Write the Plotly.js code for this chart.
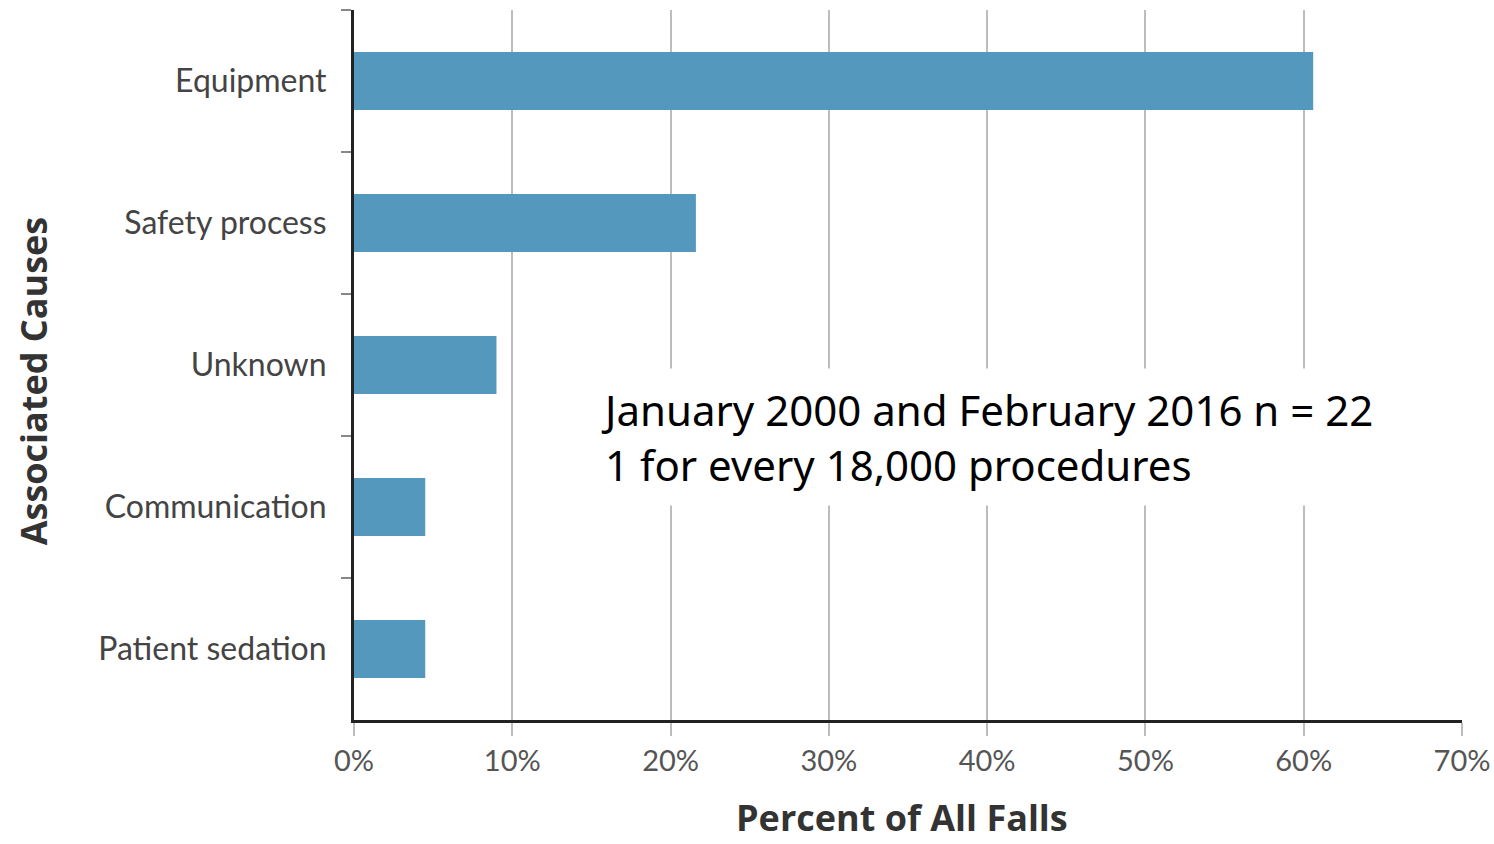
<!DOCTYPE html>
<html>
<head>
<meta charset="utf-8">
<script src="https://cdn.plot.ly/plotly-3.0.1.min.js"></script>
<style>html,body{margin:0;padding:0;background:#fff;}#chart{width:1494px;height:844px;}</style>
</head>
<body>
<div id="chart"></div>
<script>
const causes = ["Equipment", "Safety process", "Unknown", "Communication", "Patient sedation"];
const percents = [60.6, 21.6, 9.0, 4.5, 4.5];
const xTickVals = [0, 10, 20, 30, 40, 50, 60, 70];
const xTickText = ["0%", "10%", "20%", "30%", "40%", "50%", "60%", "70%"];
const xTitle = "Percent of All Falls";
const yTitle = "Associated Causes";
const noteText = "January 2000 and February 2016 n = 22<br>1 for every 18,000 procedures";

const trace = {
  type: "bar",
  orientation: "h",
  y: causes,
  x: percents,
  width: 0.41,
  marker: {color: "#5499BD"},
  hoverinfo: "x+y"
};

const titleFont = {family: "Open Sans, sans-serif", size: 36, color: "#333", weight: 700};

const layout = {
  width: 1494, height: 844,
  margin: {l: 354, r: 32, t: 10, b: 124},
  paper_bgcolor: "#fff", plot_bgcolor: "#fff",
  showlegend: false,
  xaxis: {
    range: [0, 70],
    tickvals: xTickVals, ticktext: xTickText,
    showgrid: true, gridcolor: "#bdbdbd", gridwidth: 2,
    zeroline: false,
    showline: true, linecolor: "#222", linewidth: 3,
    ticks: "outside", ticklen: 13, tickwidth: 2, tickcolor: "#bdbdbd",
    tickfont: {family: "Lato, sans-serif", size: 29, color: "#555"}
  },
  yaxis: {
    type: "category",
    autorange: "reversed",
    showgrid: false, zeroline: false,
    showline: true, linecolor: "#222", linewidth: 3,
    ticks: "outside", tickson: "boundaries", ticklen: 10, tickwidth: 2, tickcolor: "#888",
    ticklabelstandoff: 18,
    tickfont: {family: "Lato, sans-serif", size: 32, color: "#444"}
  },
  annotations: [{
    text: noteText,
    xref: "x", yref: "paper",
    x: 14.8, y: 0.398,
    xanchor: "left", yanchor: "middle",
    align: "left",
    showarrow: false,
    bgcolor: "#fff",
    borderpad: 12,
    font: {family: "Noto Sans, sans-serif", size: 42, color: "#000"}
  }, {
    text: xTitle,
    xref: "paper", yref: "paper",
    x: 0.495, y: -0.173,
    xanchor: "center", yanchor: "bottom",
    showarrow: false,
    borderpad: 0,
    font: titleFont
  }, {
    text: yTitle,
    xref: "paper", yref: "paper",
    x: -0.2897, y: 0.477,
    xanchor: "center", yanchor: "middle",
    textangle: -90,
    showarrow: false,
    font: titleFont
  }]
};

Plotly.newPlot("chart", [trace], layout, {displayModeBar: false, staticPlot: true});
</script>
</body>
</html>
